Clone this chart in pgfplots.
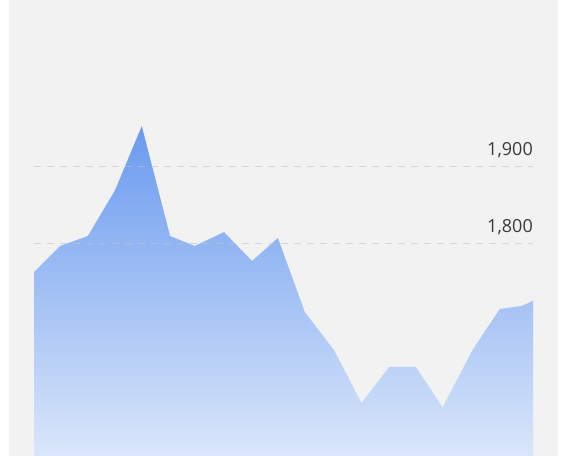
\documentclass[border=0pt]{standalone}
\usepackage{pgfplots}
\pgfplotsset{compat=1.18}
\usepackage{fontspec}
\setmainfont{Open Sans}

\definecolor{panel}{HTML}{F2F2F2}
\definecolor{areatop}{HTML}{6A9AEF}
\definecolor{areabot}{HTML}{DAE6FA}
\definecolor{gridc}{HTML}{C4C4C4}
\definecolor{labelc}{HTML}{3A3A3A}

\begin{document}
\begin{tikzpicture}
  % page and card background
  \fill[white] (-34bp,0) rectangle (535bp,456bp);
  \fill[panel] (-25bp,0) rectangle (524bp,456bp);
  \begin{axis}[
      at={(0,0)}, anchor=south west,
      scale only axis,
      width=499bp, height=456bp,
      xmin=0, xmax=18.15,
      ymin=1523.4, ymax=2115.6,
      axis line style={draw=none},
      tick style={draw=none},
      xtick=\empty,
      ytick={1800,1900},
      yticklabel pos=right,
      yticklabels={{1,800},{1,900}},
      yticklabel style={anchor=base east, inner sep=0pt, yshift=11bp,
        font=\fontsize{18bp}{20bp}\selectfont, text=labelc},
      /pgf/number format/assume math mode=true,
      ymajorgrids,
      grid style={gridc, line width=0.9bp, dash pattern=on 7bp off 6bp, opacity=0.6},
      axis on top,
    ]
    \addplot[draw=none, top color=areatop, bottom color=areabot] coordinates {
      (0,1523.4)
      (0,1762.3)
      (0.95,1796.1)
      (1.96,1809.1)
      (2.95,1868.8)
      (3.92,1951.9)
      (4.95,1809.1)
      (5.85,1796.1)
      (6.91,1814.3)
      (7.93,1776.6)
      (8.87,1806.5)
      (9.85,1710.4)
      (10.91,1661.0)
      (11.91,1592.2)
      (12.92,1639.0)
      (13.89,1639.0)
      (14.86,1586.6)
      (15.95,1661.0)
      (16.94,1714.3)
      (17.73,1718.2)
      (17.96,1721.7)
      (18.15,1725.1)
      (18.15,1523.4)
    } -- cycle;
  \end{axis}
  \pgfresetboundingbox
  \useasboundingbox (-34bp,0) rectangle (535bp,456bp);
\end{tikzpicture}
\end{document}
